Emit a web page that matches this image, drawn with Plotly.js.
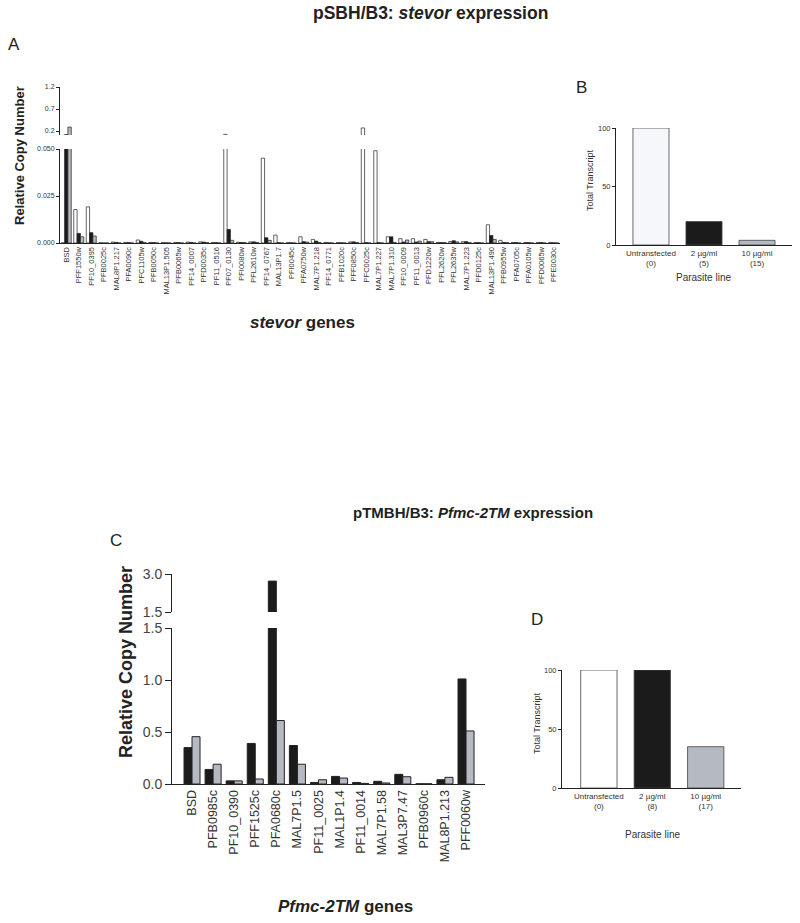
<!DOCTYPE html>
<html><head><meta charset="utf-8">
<script src="https://cdn.plot.ly/plotly-3.0.1.min.js"></script>
<style>body{margin:0;background:#fff}#chart{width:800px;height:923px}</style>
</head><body><div id="chart"></div>
<script>
// ---- Panel A: stevor relative copy number ----
const stevorGenes = ['BSD','PFF1550w','PF10_0395','PFB0025c','MAL8P1.217','PFA0090c','PFC1105w','PFB0050c','MAL13P1.505','PFB0065w','PF14_0007','PFD0035c','PF11_0516','PF07_0130','PFI0080w','PFL2610w','PF14_0767','MAL13P1.7','PFI0045c','PFA0750w','MAL7P1.218','PF14_0771','PFB1020c','PFF0850c','PFC0025c','MAL7P1.227','MAL7P1.310','PF10_0009','PF11_0013','PFD1220w','PFL2620w','PFL2635w','MAL7P1.223','PFD0125c','MAL13P1.490','PFB0955w','PFA0705c','PFA0105w','PFD0065w','PFE0030c'];
const stevorUntransfected = [0,0.0178,0.0192,0.0001,0.0005,0.0003,0.0016,0.0003,0.0002,0.0003,0.0005,0.0006,0.0003,0.125,0.0004,0.0006,0.0451,0.0042,0.0002,0.0033,0.0019,0.0003,0.0002,0.0006,0.27,0.0491,0.0033,0.0023,0.0023,0.0019,0.0003,0.0008,0.0007,0.0002,0.0097,0.0014,0.0003,0.0003,0.0003,0.0003];
const stevor2ug = [0.12,0.0051,0.0055,0,0.0003,0.0002,0.0009,0.0002,0.0001,0.0002,0.0003,0.0005,0.0002,0.0072,0.0003,0.0006,0.0028,0.0002,0.0001,0.0007,0.001,0.0001,0.0001,0.0006,0.0002,0.0002,0.0033,0.0005,0.0005,0.0007,0.0002,0.0012,0.0007,0.0002,0.004,0.0003,0.0002,0.0002,0.0002,0.0001];
const stevor10ug = [0.29,0.0033,0.0037,0,0,0,0.0002,0,0,0,0,0.0002,0,0.0014,0.0002,0.0003,0.0014,0,0,0.0005,0.0002,0,0,0.0002,0,0,0.0003,0.0016,0.001,0.0007,0.0002,0.0006,0.0002,0,0.0019,0.0002,0,0,0,0];
// ---- Panel B ----
const linesB = ['Untransfected<br>(0)','2 µg/ml<br>(5)','10 µg/ml<br>(15)'];
const totalB = [100, 20, 4];
// ---- Panel C: Pfmc-2TM relative copy number ----
const mc2Genes = ['BSD','PFB0985c','PF10_0390','PFF1525c','PFA0680c','MAL7P1.5','PF11_0025','MAL1P1.4','PF11_0014','MAL7P1.58','MAL3P7.47','PFB0960c','MAL8P1.213','PFF0060w'];
const mc2_2ug = [0.35,0.14,0.03,0.39,2.72,0.37,0.015,0.073,0.015,0.026,0.093,0.002,0.041,1.01];
const mc2_10ug = [0.455,0.19,0.03,0.048,0.61,0.19,0.041,0.057,0.006,0.01,0.07,0.002,0.064,0.51];
// ---- Panel D ----
const linesD = ['Untransfected<br>(0)','2 µg/ml<br>(8)','10 µg/ml<br>(17)'];
const totalD = [100, 100, 35];

const W = 800, H = 923;
const px = p => p / W;
const py = p => 1 - p / H;
const FONT = 'Liberation Sans, Arial, sans-serif';
const WHITE = '#ffffff', BLACK = '#1b1b1b', GRAY = '#b5b9c1', EDGE = '#222222';

const traces = [];
// panel A: lower & upper segments
const aSeries = [[stevorUntransfected, WHITE, -0.4], [stevor2ug, BLACK, -0.1333], [stevor10ug, GRAY, 0.1333]];
[['x','y'],['x2','y2']].forEach(([xa, ya]) => {
  aSeries.forEach(([vals, col, off]) => {
    traces.push({type:'bar', x: stevorGenes, y: vals, xaxis: xa, yaxis: ya,
      width: 0.2667, offset: off, marker: {color: col, line: {color: EDGE, width: 0.7}}, hoverinfo:'skip'});
  });
});
// panel B
traces.push({type:'bar', x: linesB, y: totalB, xaxis:'x3', yaxis:'y3', width:0.68, offset:-0.34,
  marker:{color:['#f5f7fb', BLACK, GRAY], line:{color:'#444', width:0.8}}, hoverinfo:'skip'});
// panel C: lower & upper
const cSeries = [[mc2_2ug, BLACK, -0.38], [mc2_10ug, GRAY, 0]];
[['x4','y4'],['x5','y5']].forEach(([xa, ya]) => {
  cSeries.forEach(([vals, col, off]) => {
    traces.push({type:'bar', x: mc2Genes, y: vals, xaxis: xa, yaxis: ya,
      width: 0.38, offset: off, marker: {color: col, line: {color: EDGE, width: 1}}, hoverinfo:'skip'});
  });
});
// panel D
traces.push({type:'bar', x: linesD, y: totalD, xaxis:'x6', yaxis:'y6', width:0.68, offset:-0.34,
  marker:{color:[WHITE, BLACK, GRAY], line:{color:'#444', width:0.8}}, hoverinfo:'skip'});

const baseY = {showgrid:false, zeroline:false, showline:true, linecolor:'#222', linewidth:1, ticks:'outside', ticklen:3, tickcolor:'#222', tickfont:{family:FONT, size:7, color:'#333'}};
const baseX = {showgrid:false, zeroline:false, showline:true, linecolor:'#222', linewidth:1, ticks:'', tickfont:{family:FONT, size:7, color:'#333'}};
const hiddenX = {showgrid:false, zeroline:false, showline:false, ticks:'', showticklabels:false};

const layout = {
  width: W, height: H, margin:{l:0,r:0,t:0,b:0}, showlegend:false,
  paper_bgcolor:'#fff', plot_bgcolor:'rgba(0,0,0,0)', barmode:'overlay',
  font:{family:FONT},
  xaxis: Object.assign({}, baseX, {domain:[px(60), px(560)], anchor:'y', type:'category', categoryorder:'array', categoryarray: stevorGenes, range:[-0.5, 39.5], tickangle:-90, tickfont:{family:FONT, size:7.5, color:'#333'}}),
  yaxis: Object.assign({}, baseY, {domain:[py(243), py(149)], anchor:'x', range:[0, 0.05], tickvals:[0,0.025,0.05], ticktext:['0.000','0.025','0.050']}),
  xaxis2: Object.assign({}, hiddenX, {domain:[px(60), px(560)], anchor:'y2', type:'category', categoryorder:'array', categoryarray: stevorGenes, range:[-0.5, 39.5]}),
  yaxis2: Object.assign({}, baseY, {domain:[py(135), py(87)], anchor:'x2', range:[0.11, 1.2], tickvals:[0.2,0.7,1.2], ticktext:['0.2','0.7','1.2']}),
  xaxis3: Object.assign({}, baseX, {domain:[px(616), px(792)], anchor:'y3', type:'category', range:[-0.66, 2.66], tickfont:{family:FONT, size:8, color:'#333'}}),
  yaxis3: Object.assign({}, baseY, {domain:[py(245), py(128)], anchor:'x3', range:[0, 100], tickvals:[0,50,100], tickfont:{family:FONT, size:7.5, color:'#333'}}),
  xaxis4: Object.assign({}, baseX, {domain:[px(172), px(485)], anchor:'y4', type:'category', categoryorder:'array', categoryarray: mc2Genes, range:[-0.95, 13.9], tickangle:-90, tickfont:{family:FONT, size:12.5, color:'#333'}}),
  yaxis4: Object.assign({}, baseY, {domain:[py(784), py(628)], anchor:'x4', range:[0, 1.5], tickvals:[0,0.5,1,1.5], ticktext:['0.0','0.5','1.0','1.5'], ticklen:6, tickfont:{family:FONT, size:14, color:'#444'}}),
  xaxis5: Object.assign({}, hiddenX, {domain:[px(172), px(485)], anchor:'y5', type:'category', categoryorder:'array', categoryarray: mc2Genes, range:[-0.95, 13.9]}),
  yaxis5: Object.assign({}, baseY, {domain:[py(612), py(574)], anchor:'x5', range:[1.5, 3.0], tickvals:[1.5,3.0], ticktext:['1.5','3.0'], ticklen:6, tickfont:{family:FONT, size:14, color:'#444'}}),
  xaxis6: Object.assign({}, baseX, {domain:[px(562), px(741)], anchor:'y6', type:'category', range:[-0.69, 2.66], tickfont:{family:FONT, size:8, color:'#333'}}),
  yaxis6: Object.assign({}, baseY, {domain:[py(788), py(670)], anchor:'x6', range:[0, 100], tickvals:[0,50,100], tickfont:{family:FONT, size:7.5, color:'#333'}}),
  annotations: [
    {text:'<b>pSBH/B3: <i>stevor</i> expression</b>', x:px(430), y:py(13), font:{size:17.5, color:'#222'}},
    {text:'A', x:px(14), y:py(45), font:{size:17, color:'#222'}},
    {text:'<b>Relative Copy Number</b>', x:px(19), y:py(156), textangle:-90, font:{size:13, color:'#222'}},
    {text:'<b><i>stevor</i> genes</b>', x:px(302), y:py(323), font:{size:17, color:'#222'}},
    {text:'B', x:px(581), y:py(87), font:{size:17, color:'#222'}},
    {text:'Total Transcript', x:px(590), y:py(180), textangle:-90, font:{size:9, color:'#333'}},
    {text:'Parasite line', x:px(703), y:py(277), font:{size:10, color:'#333'}},
    {text:'<b>pTMBH/B3: <i>Pfmc-2TM</i> expression</b>', x:px(473), y:py(512), font:{size:15, color:'#222'}},
    {text:'C', x:px(116), y:py(540), font:{size:17, color:'#222'}},
    {text:'<b>Relative Copy Number</b>', x:px(126), y:py(662), textangle:-90, font:{size:18, color:'#222'}},
    {text:'<b><i>Pfmc-2TM</i> genes</b>', x:px(345), y:py(906), font:{size:17, color:'#222'}},
    {text:'D', x:px(537), y:py(619), font:{size:17, color:'#222'}},
    {text:'Total Transcript', x:px(537), y:py(723), textangle:-90, font:{size:9, color:'#333'}},
    {text:'Parasite line', x:px(652), y:py(834), font:{size:10, color:'#333'}}
  ].map(a => Object.assign({xref:'paper', yref:'paper', showarrow:false, xanchor:'center', yanchor:'middle'}, a, {font:Object.assign({family:FONT}, a.font)}))
};

Plotly.newPlot('chart', traces, layout, {staticPlot:true, displayModeBar:false});
</script>
</body></html>
